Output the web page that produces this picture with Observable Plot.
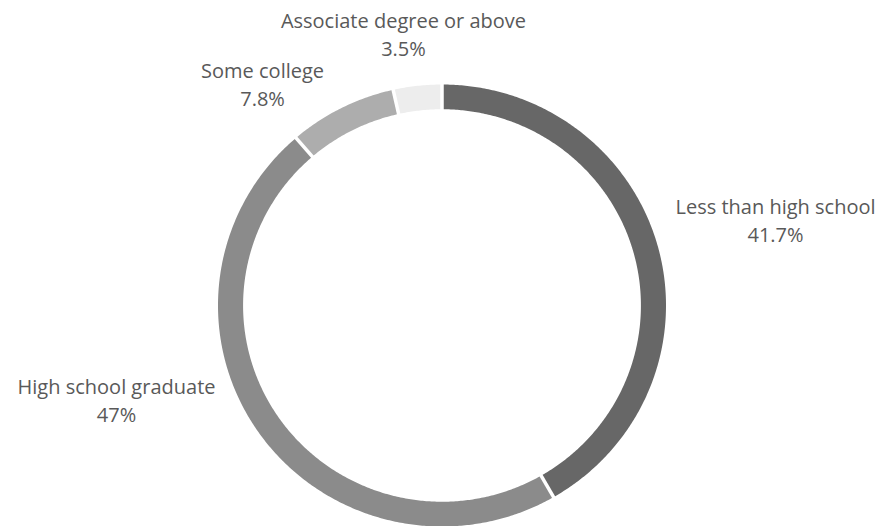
<!DOCTYPE html>
<html>
<head>
<meta charset="utf-8">
<script src="https://cdn.jsdelivr.net/npm/d3@7"></script>
<script src="https://cdn.jsdelivr.net/npm/@observablehq/plot@0.6"></script>
<style>
  html, body { margin: 0; padding: 0; background: #ffffff; }
  #chart svg { display: block; }
</style>
</head>
<body>
<div id="chart"></div>
<script>
// ---- data ----
const categories = ["Less than high school", "High school graduate", "Some college", "Associate degree or above"];
const values = [41.7, 47, 7.8, 3.5];
const valueLabels = ["41.7%", "47%", "7.8%", "3.5%"];

// ---- styles / layout (not data) ----
const colors = ["#676767", "#8b8b8b", "#adadad", "#ededed"];
const labelLayout = [
  {x: 1.489, y: 0.380},
  {x: -1.453, y: -0.434},
  {x: -0.801, y: 0.995},
  {x: -0.172, y: 1.222}
];
const innerR = 0.888, outerR = 1;

const total = d3.sum(values);
let acc = 0;
const slices = categories.map((c, i) => {
  const a0 = acc / total * 2 * Math.PI;
  acc += values[i];
  const a1 = acc / total * 2 * Math.PI;
  return {cat: c, a0, a1, color: colors[i], i};
});

function arcPoints(s) {
  const n = Math.max(4, Math.ceil((s.a1 - s.a0) / (Math.PI / 360)));
  const pts = [];
  for (let k = 0; k <= n; k++) {
    const a = s.a0 + (s.a1 - s.a0) * k / n;
    pts.push({x: outerR * Math.sin(a), y: outerR * Math.cos(a)});
  }
  for (let k = n; k >= 0; k--) {
    const a = s.a0 + (s.a1 - s.a0) * k / n;
    pts.push({x: innerR * Math.sin(a), y: innerR * Math.cos(a)});
  }
  return pts;
}

const boundaries = slices.map(s => ({
  x1: (innerR - 0.03) * Math.sin(s.a0), y1: (innerR - 0.03) * Math.cos(s.a0),
  x2: (outerR + 0.03) * Math.sin(s.a0), y2: (outerR + 0.03) * Math.cos(s.a0)
}));

const labels = categories.map((c, i) => ({name: c, value: valueLabels[i], x: labelLayout[i].x, y: labelLayout[i].y}));

const font = "'Open Sans', sans-serif";

const chart = Plot.plot({
  width: 882,
  height: 526,
  marginLeft: 217.5,
  marginRight: 216.5,
  marginTop: 84,
  marginBottom: 0,
  x: {domain: [-1, 1], axis: null},
  y: {domain: [-1, 1], axis: null},
  style: {fontFamily: font, background: "#ffffff"},
  marks: [
    ...slices.map(s => Plot.line(arcPoints(s), {x: "x", y: "y", fill: s.color, stroke: "none", curve: "linear"})),
    Plot.link(boundaries, {x1: "x1", y1: "y1", x2: "x2", y2: "y2", stroke: "#ffffff", strokeWidth: 3.5}),
    Plot.text(labels, {x: "x", y: "y", text: "name", dy: -14, fontSize: 20, fill: "#595959", fontFamily: font, textAnchor: "middle"}),
    Plot.text(labels, {x: "x", y: "y", text: "value", dy: 14, fontSize: 20, fill: "#595959", fontFamily: font, textAnchor: "middle"})
  ]
});
document.getElementById("chart").appendChild(chart);
</script>
</body>
</html>
